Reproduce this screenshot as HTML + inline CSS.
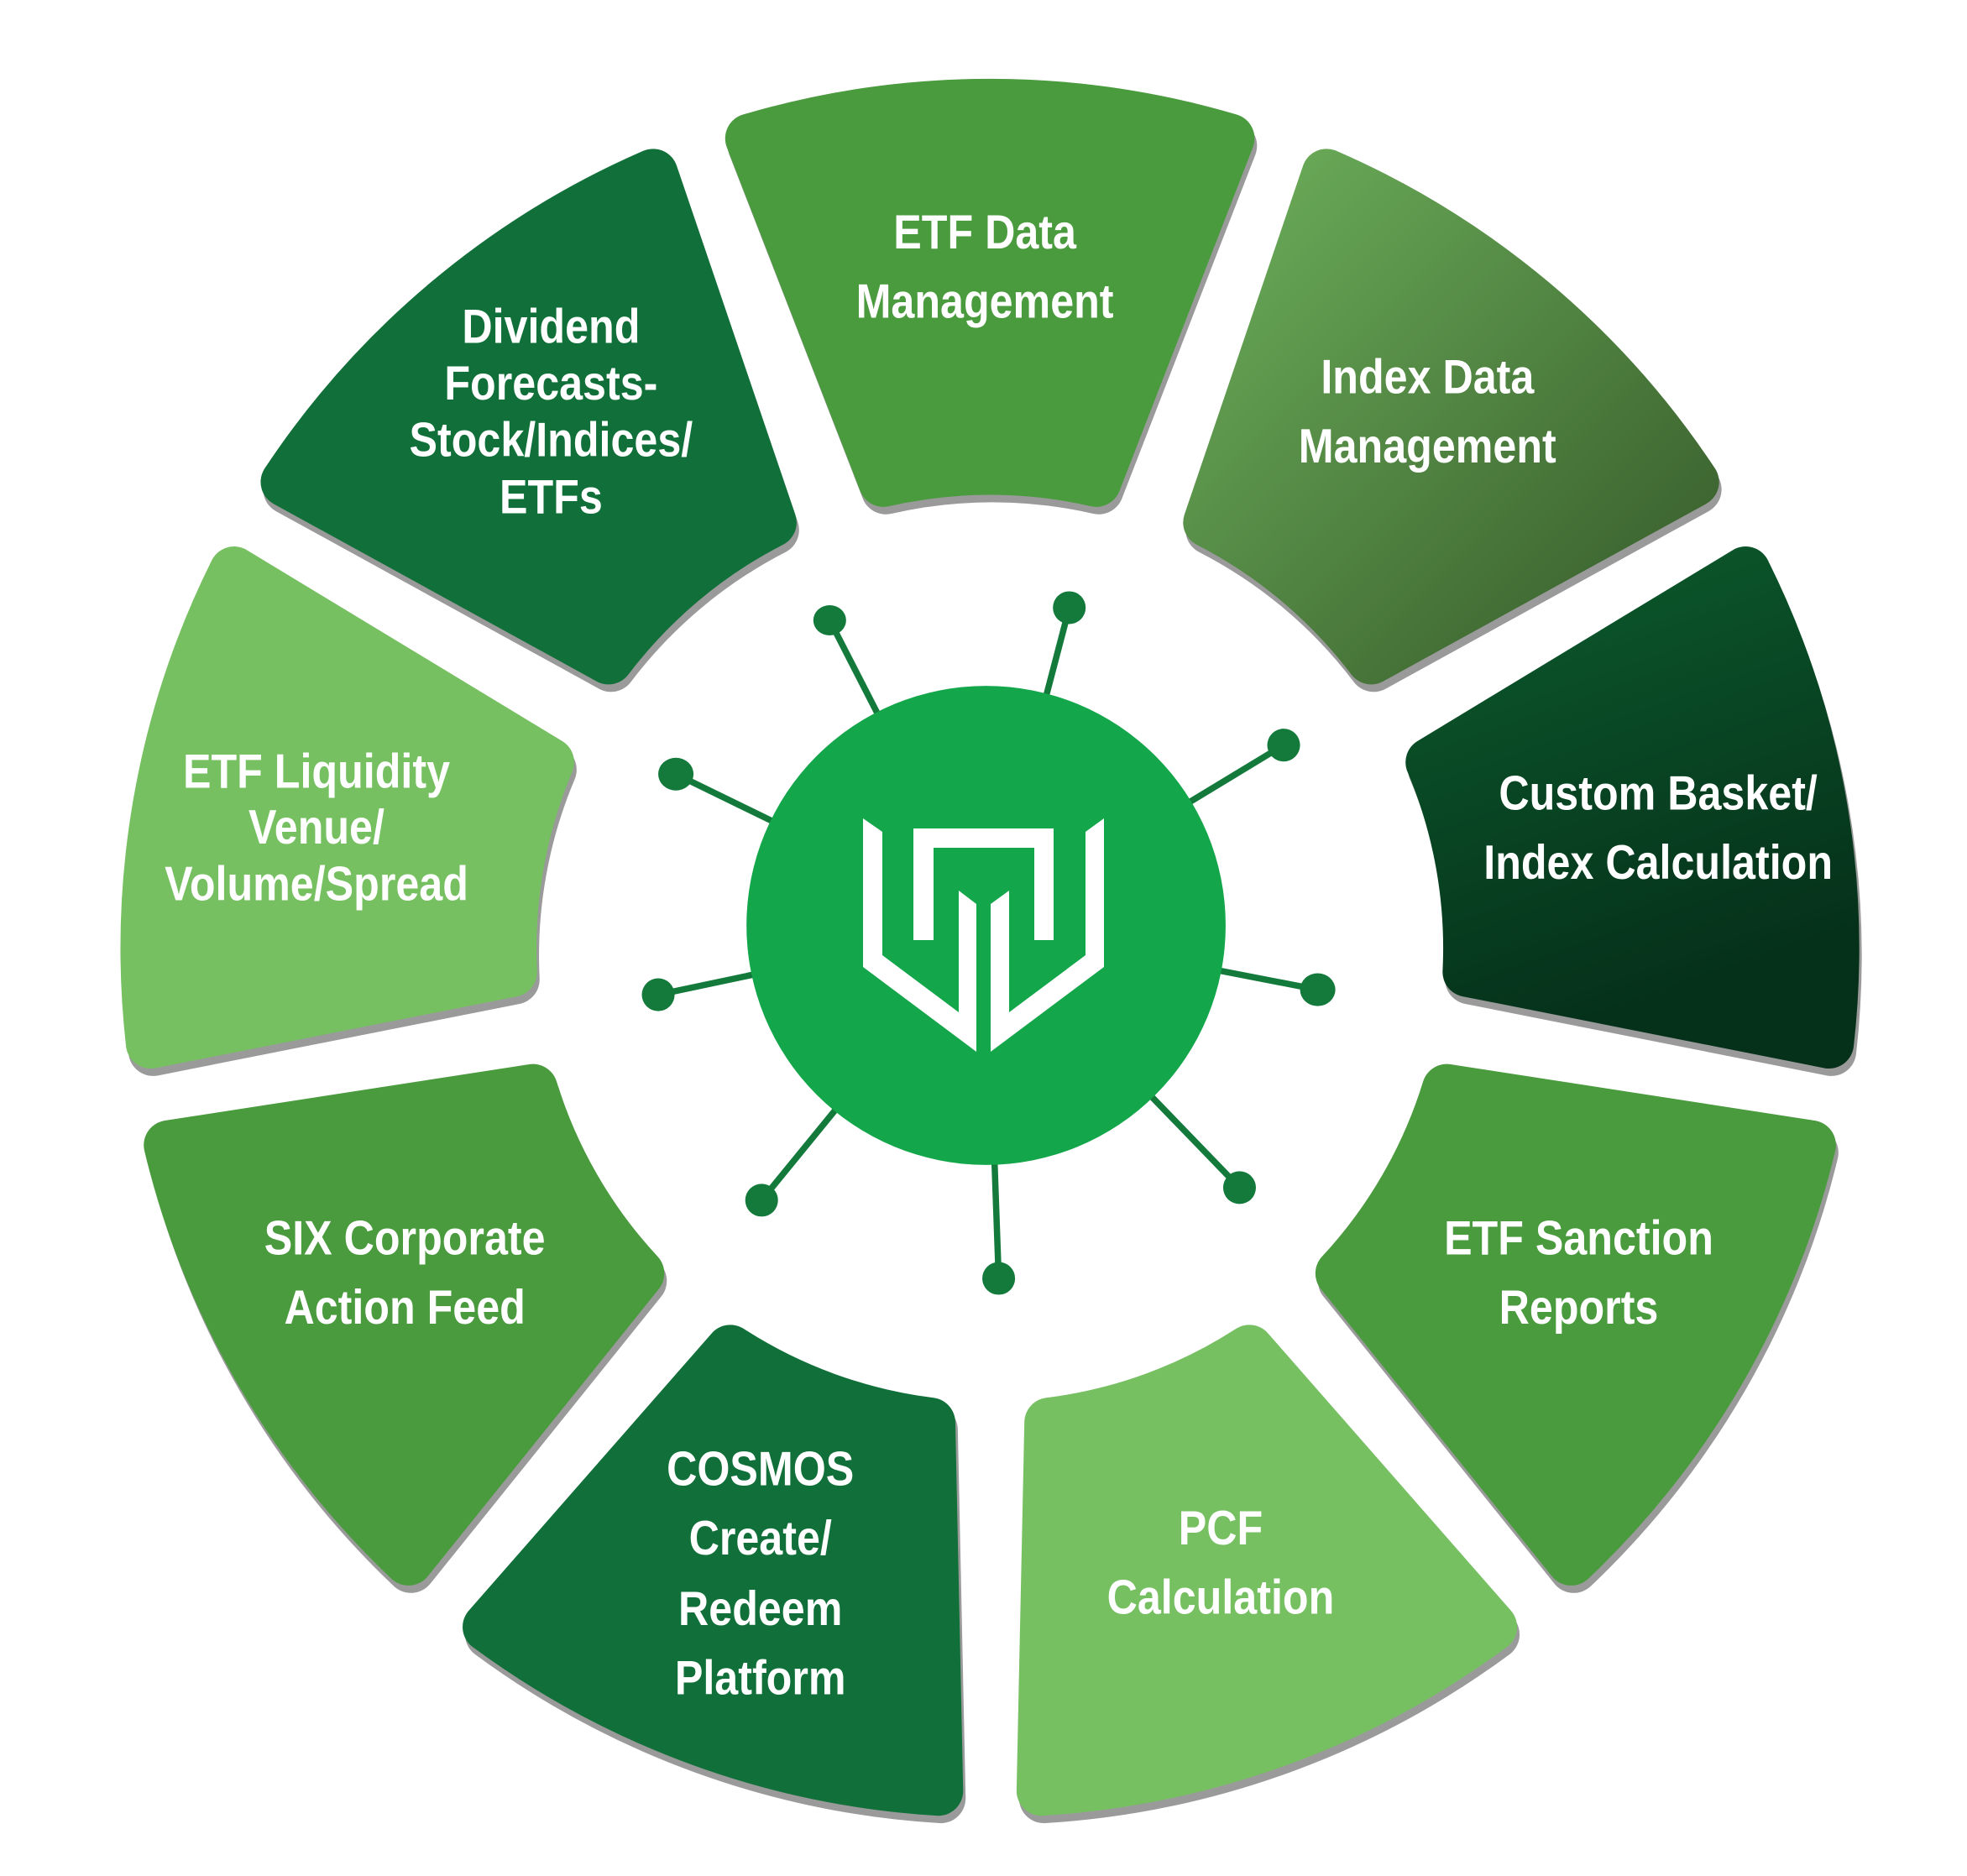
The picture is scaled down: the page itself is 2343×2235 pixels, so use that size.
<!DOCTYPE html>
<html><head><meta charset="utf-8"><style>
html,body{margin:0;padding:0;background:#fff;width:2343px;height:2235px;overflow:hidden}
svg{display:block}
text{font-family:"Liberation Sans Narrow","Liberation Sans",sans-serif;font-weight:bold;fill:#fff;font-size:38px;text-anchor:middle;transform-box:fill-box;transform-origin:center;transform:scaleX(0.88)}
</style></head><body>
<svg width="2343" height="2235" viewBox="0 0 2343 2235" xmlns="http://www.w3.org/2000/svg">
<defs>
<linearGradient id="gi" x1="0" y1="0" x2="1" y2="1"><stop offset="0" stop-color="#6cae5a"/><stop offset="1" stop-color="#365a2a"/></linearGradient>
<linearGradient id="gc" x1="0" y1="0" x2="0.3" y2="1"><stop offset="0" stop-color="#0c5a2c"/><stop offset="1" stop-color="#05301a"/></linearGradient>
</defs>
<g transform="scale(1.502) translate(785,752) scale(0.985) translate(-785,-752)" stroke-width="40" stroke-linejoin="round">
<g fill="#9a9a9a" stroke="#9a9a9a" transform="translate(2,6)">
<path d="M591.9,100 A680,680 0 0 1 978.1,100 L870.7,376.7 A385,385 0 0 0 699.3,376.7 Z"/>
<path d="M1056.1,128.4 A680,680 0 0 1 1352.1,376.7 L1092,519.7 A385,385 0 0 0 960.6,409.3 Z"/>
<path d="M1393.5,448.6 A680,680 0 0 1 1460.6,829 L1169.5,771.3 A385,385 0 0 0 1139.7,602.4 Z"/>
<path d="M1446.2,910.7 A680,680 0 0 1 1253.1,1245.3 L1067.1,1014 A385,385 0 0 0 1152.9,865.4 Z"/>
<path d="M1189.5,1298.7 A680,680 0 0 1 826.5,1430.7 L832.8,1134 A385,385 0 0 0 993.9,1075.4 Z"/>
<path d="M743.5,1430.7 A680,680 0 0 1 380.5,1298.7 L576.1,1075.4 A385,385 0 0 0 737.2,1134 Z"/>
<path d="M316.9,1245.3 A680,680 0 0 1 123.8,910.7 L417.1,865.4 A385,385 0 0 0 502.9,1014 Z"/>
<path d="M109.4,829 A680,680 0 0 1 176.5,448.6 L430.3,602.4 A385,385 0 0 0 400.5,771.3 Z"/>
<path d="M217.9,376.7 A680,680 0 0 1 513.9,128.4 L609.4,409.3 A385,385 0 0 0 478,519.7 Z"/>
</g>
<path fill="#4a9a3e" stroke="#4a9a3e" d="M591.9,100 A680,680 0 0 1 978.1,100 L870.7,376.7 A385,385 0 0 0 699.3,376.7 Z"/>
<path fill="url(#gi)" stroke="url(#gi)" d="M1056.1,128.4 A680,680 0 0 1 1352.1,376.7 L1092,519.7 A385,385 0 0 0 960.6,409.3 Z"/>
<path fill="url(#gc)" stroke="url(#gc)" d="M1393.5,448.6 A680,680 0 0 1 1460.6,829 L1169.5,771.3 A385,385 0 0 0 1139.7,602.4 Z"/>
<path fill="#4a9a3e" stroke="#4a9a3e" d="M1446.2,910.7 A680,680 0 0 1 1253.1,1245.3 L1067.1,1014 A385,385 0 0 0 1152.9,865.4 Z"/>
<path fill="#76c062" stroke="#76c062" d="M1189.5,1298.7 A680,680 0 0 1 826.5,1430.7 L832.8,1134 A385,385 0 0 0 993.9,1075.4 Z"/>
<path fill="#117039" stroke="#117039" d="M743.5,1430.7 A680,680 0 0 1 380.5,1298.7 L576.1,1075.4 A385,385 0 0 0 737.2,1134 Z"/>
<path fill="#4a9a3e" stroke="#4a9a3e" d="M316.9,1245.3 A680,680 0 0 1 123.8,910.7 L417.1,865.4 A385,385 0 0 0 502.9,1014 Z"/>
<path fill="#76c062" stroke="#76c062" d="M109.4,829 A680,680 0 0 1 176.5,448.6 L430.3,602.4 A385,385 0 0 0 400.5,771.3 Z"/>
<path fill="#117039" stroke="#117039" d="M217.9,376.7 A680,680 0 0 1 513.9,128.4 L609.4,409.3 A385,385 0 0 0 478,519.7 Z"/>
</g>
<g transform="scale(1.502)">
<g stroke="#137a3c" stroke-width="5" fill="#137a3c">
<line x1="782" y1="734" x2="658" y2="492"/><line x1="782" y1="734" x2="848" y2="482"/>
<line x1="782" y1="734" x2="1018" y2="591"/><line x1="782" y1="734" x2="1045" y2="785"/>
<line x1="782" y1="734" x2="983" y2="942"/><line x1="782" y1="734" x2="792" y2="1014"/>
<line x1="782" y1="734" x2="604" y2="952"/><line x1="782" y1="734" x2="522" y2="789"/>
<line x1="782" y1="734" x2="536" y2="614"/>
<ellipse cx="658" cy="492" rx="13" ry="12" stroke="none"/><ellipse cx="848" cy="482" rx="13" ry="13" stroke="none"/>
<ellipse cx="1018" cy="591" rx="13" ry="13" stroke="none"/><ellipse cx="1045" cy="785" rx="14" ry="13" stroke="none"/>
<ellipse cx="983" cy="942" rx="13" ry="13" stroke="none"/><ellipse cx="792" cy="1014" rx="13" ry="13" stroke="none"/>
<ellipse cx="604" cy="952" rx="13" ry="13" stroke="none"/><ellipse cx="522" cy="789" rx="13" ry="13" stroke="none"/>
<ellipse cx="536" cy="614" rx="14" ry="13" stroke="none"/>
</g>
<circle cx="782" cy="734" r="190" fill="#14a64a"/>
</g>
<g fill="#fff">
<polygon points="1028,975 1028,1152 1163,1253 1163,1077 1142,1061 1142,1206 1051,1138 1051,991"/>
<polygon points="1315,975 1315,1152 1180,1253 1180,1077 1202,1061 1202,1206 1293,1138 1293,991"/>
<polygon points="1088,987 1255,987 1255,1120 1232,1120 1232,1010 1112,1010 1112,1120 1088,1120"/>
</g>
<g transform="scale(1.502)">
<text x="781" y="197">ETF Data</text><text x="781" y="252">Management</text>
<text x="1132" y="312">Index Data</text><text x="1132" y="367">Management</text>
<text x="1315" y="642">Custom Basket/</text><text x="1315" y="697">Index Calculation</text>
<text x="1252" y="995">ETF Sanction</text><text x="1252" y="1050">Reports</text>
<text x="968" y="1225">PCF</text><text x="968" y="1280">Calculation</text>
<text x="603" y="1178">COSMOS</text><text x="603" y="1233">Create/</text><text x="603" y="1289">Redeem</text><text x="603" y="1344">Platform</text>
<text x="321" y="995">SIX Corporate</text><text x="321" y="1050">Action Feed</text>
<text x="251" y="625">ETF Liquidity</text><text x="251" y="669">Venue/</text><text x="251" y="714">Volume/Spread</text>
<text x="437" y="272">Dividend</text><text x="437" y="317">Forecasts-</text><text x="437" y="362">Stock/Indices/</text><text x="437" y="407">ETFs</text>
</g>
</svg>
</body></html>
